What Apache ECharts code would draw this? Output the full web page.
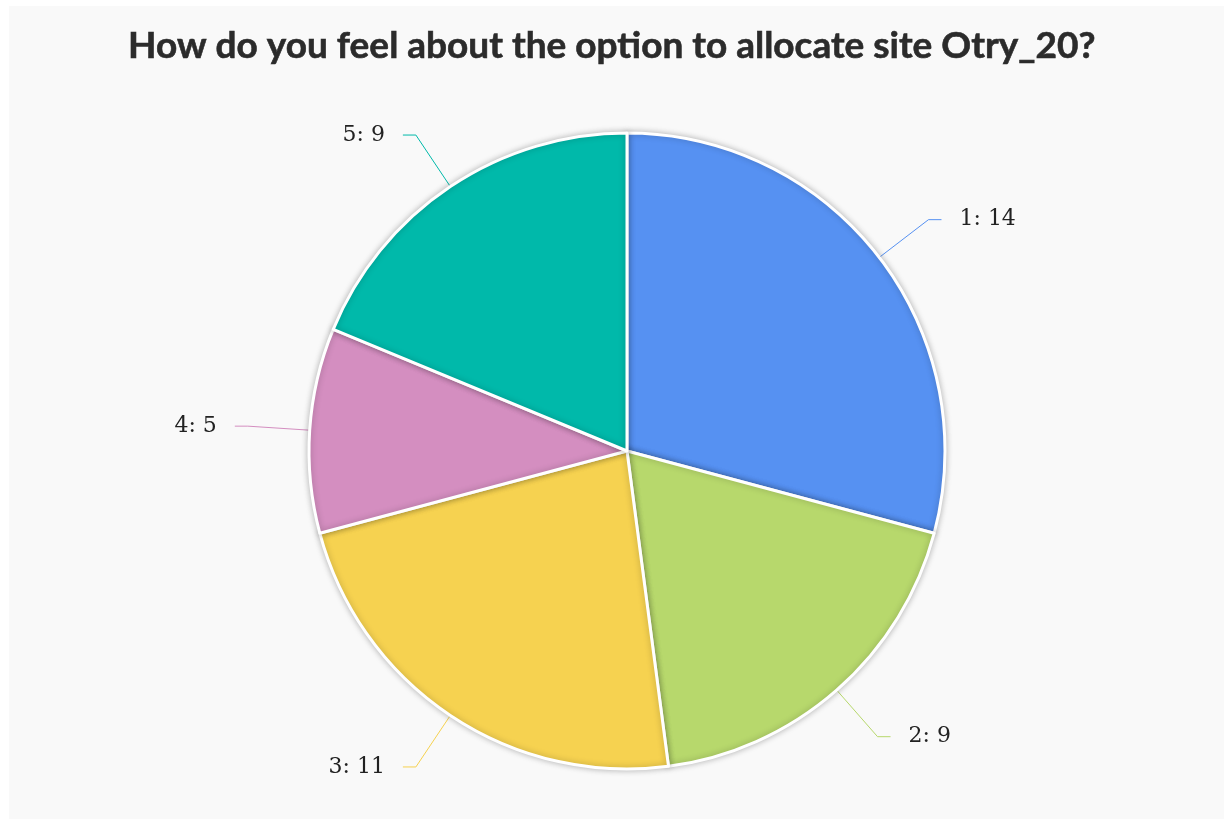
<!DOCTYPE html>
<html>
<head>
<meta charset="utf-8">
<script src="https://cdn.jsdelivr.net/npm/echarts@6/dist/echarts.min.js"></script>
<style>
  html, body { margin: 0; padding: 0; background: #ffffff; }
  #chart { position: absolute; left: 9px; top: 6px; width: 1215px; height: 813px; background: #f9f9f9; }
</style>
</head>
<body>
<div id="chart"></div>
<script>
// Survey responses for the Otry_20 allocation question
const answers = ['1', '2', '3', '4', '5'];
const counts = [14, 9, 11, 5, 9];
const sliceColors = ['#5691f2', '#b7d86c', '#f6d250', '#d48ec0', '#00b9aa'];

const chart = echarts.init(document.getElementById('chart'), null, { renderer: 'canvas' });

chart.setOption({
  backgroundColor: '#f9f9f9',
  animation: false,
  title: {
    text: 'How do you feel about the option to allocate site Otry_20?',
    left: 114,
    top: 17,
    textStyle: {
      fontFamily: 'Lato',
      fontWeight: 'bold',
      fontSize: 37,
      color: '#2b2b2b',
      textBorderColor: '#2b2b2b',
      textBorderWidth: 0.6
    }
  },
  series: [{
    type: 'pie',
    center: [618, 445],
    radius: 318,
    startAngle: 90,
    clockwise: true,
    data: answers.map((a, i) => ({
      name: a,
      value: counts[i],
      itemStyle: { color: sliceColors[i] },
      labelLine: { lineStyle: { color: sliceColors[i] } }
    })),
    itemStyle: {
      borderColor: '#ffffff',
      borderWidth: 3,
      shadowBlur: 6,
      shadowColor: 'rgba(0,0,0,0.25)'
    },
    label: {
      formatter: '{b}: {c}',
      fontFamily: 'DejaVu Serif',
      fontSize: 22,
      color: '#222222',
      distanceToLabelLine: 18
    },
    labelLine: {
      length: 62,
      length2: 13,
      smooth: false,
      lineStyle: { width: 1 }
    },
    emphasis: { disabled: true }
  }]
});
</script>
</body>
</html>
